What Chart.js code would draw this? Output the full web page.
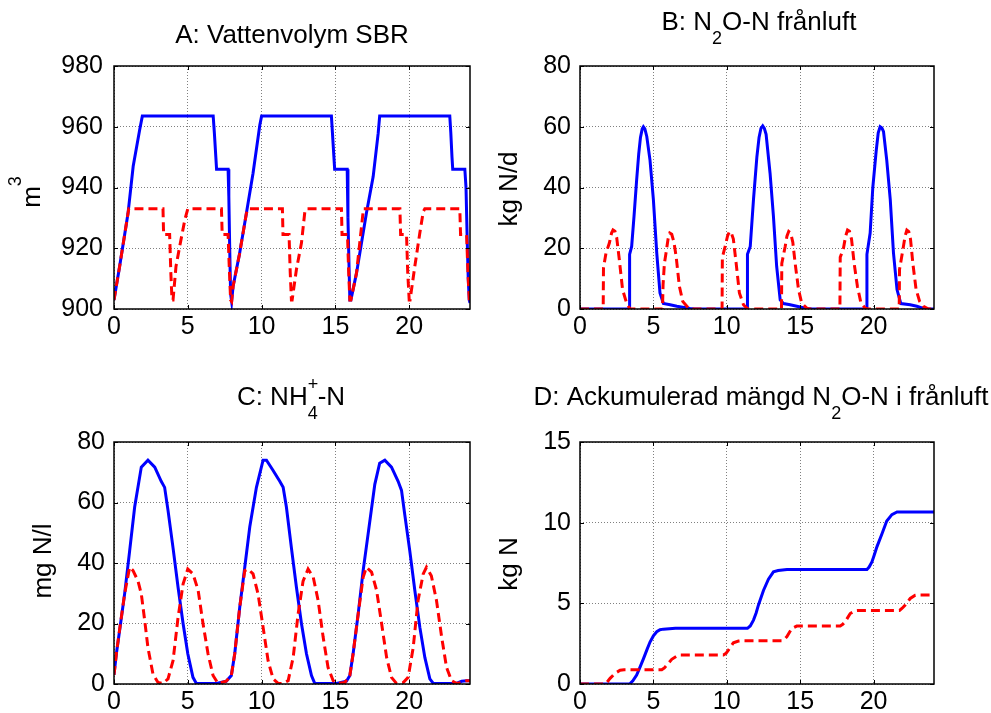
<!DOCTYPE html>
<html>
<head>
<meta charset="utf-8">
<script src="https://cdn.jsdelivr.net/npm/chart.js@4.4.1/dist/chart.umd.min.js"></script>
<style>
  body { margin: 0; background: #fff; }
  #wrap { position: relative; width: 991px; height: 713px; }
  canvas { position: absolute; }
</style>
</head>
<body>
<div id="wrap">
  <canvas id="cA" width="495" height="356" style="left:0;top:0"></canvas>
  <canvas id="cB" width="496" height="356" style="left:495px;top:0"></canvas>
  <canvas id="cC" width="495" height="357" style="left:0;top:356px"></canvas>
  <canvas id="cD" width="496" height="357" style="left:495px;top:356px"></canvas>
</div>
<script>
// time in hours; [t, value] pairs
const xTicks = [0, 5, 10, 15, 20];
const xMax = 24.12;

// A: water volume (m3)
const volBlue = [[0,903],[0.38,914],[0.95,931.5],[1.3,947],[1.74,959],[1.92,963.5],[6.72,963.5],[6.8,958],[6.9,950],[6.95,946],
  [7.73,946],[7.78,937],[7.84,920],[7.9,905],[7.97,902.5],[8.07,907.5],[8.5,918],[8.97,931.5],[9.42,944.7],[9.88,960.6],[10.0,963.5],
  [14.73,963.5],[14.8,958],[14.9,950],[14.95,946],[15.8,946],[15.85,930],[15.92,915],[15.98,903],[16.05,903],[16.43,911.8],
  [17.1,931.5],[17.56,943.6],[17.9,957.9],[18.0,963.5],[22.75,963.5],[22.82,958],[22.9,950],[22.95,946],[23.77,946],[23.85,940],
  [23.92,925],[24.0,910],[24.07,903],[24.12,902]];
const volRed = [[0,903],[0.38,914],[0.95,931.5],[1.0,933],[3.32,933],[3.36,924.5],[3.77,924.5],[3.85,912],[3.93,903],[4.0,903],
  [4.2,914],[4.45,920.6],[4.8,929.4],[5.0,933],[7.28,933],[7.33,924.5],[7.73,924.5],[7.8,915],[7.9,903],[7.97,902.5],[8.07,907.5],
  [8.5,918],[8.97,931.5],[9.08,933],[11.41,933],[11.45,924.5],[11.86,924.5],[11.94,912],[12.02,903],[12.07,903],[12.36,913],
  [12.7,921.7],[12.93,932],[13.04,933],[15.41,933],[15.45,924.5],[15.82,924.5],[15.9,912],[15.98,903],[16.05,903],[16.43,911.8],
  [16.9,933],[19.37,933],[19.42,924.5],[19.82,924.5],[19.9,912],[20.0,903],[20.06,903],[20.38,914],[20.72,925],[20.95,932],
  [21.06,933],[23.43,933],[23.48,924.5],[23.89,924.5],[23.98,912],[24.07,903],[24.12,902]];

// B: N2O-N in off-gas (kg N/d)
const gasBlue = [[0,0],[3.36,0],[3.38,18],[3.52,20.6],[3.68,30.5],[3.86,42.5],[4.0,51],[4.12,56.5],[4.24,59.3],[4.32,60],
  [4.42,59.3],[4.55,56.8],[4.77,49],[5.0,36],[5.23,18.4],[5.45,5.3],[5.68,1.8],[6.14,1.4],[6.6,0.9],[7.5,0.2],[7.8,0],
  [11.39,0],[11.41,18],[11.6,20.6],[11.82,36],[12.05,50],[12.2,56.5],[12.33,59.5],[12.45,60.3],[12.56,59.5],[12.68,57.5],
  [12.95,44.7],[13.18,30.5],[13.4,14],[13.64,3],[13.86,1.8],[14.32,1.4],[14.77,0.9],[15.45,0.2],[15.8,0],[19.53,0],[19.55,18],
  [19.77,25],[19.95,40],[20.18,52],[20.32,58],[20.45,60],[20.57,59.6],[20.68,58.4],[20.9,49],[21.14,36],[21.36,18.4],
  [21.6,6.4],[21.86,1.8],[22.5,1.4],[22.95,0.9],[23.4,0.2],[23.7,0],[24.12,0]];
const gasRed = [[0,0],[1.58,0],[1.6,13.5],[1.77,18.4],[2.0,21.7],[2.15,25],[2.25,26],[2.38,25.6],[2.5,23.5],[2.68,16.2],
  [2.9,6.4],[3.14,2.5],[3.3,0.9],[3.4,0],[5.62,0],[5.66,8],[5.75,15],[5.86,18.4],[6.0,23],[6.12,25],[6.25,24.6],[6.4,22],
  [6.55,17.3],[6.77,7.5],[7.0,2.5],[7.39,0.3],[7.6,0],[9.68,0],[9.7,17],[9.89,20.6],[10.05,24],[10.18,25.5],[10.3,25.2],
  [10.45,23],[10.64,15],[10.86,5.3],[11.14,1.4],[11.36,0.3],[11.5,0],[13.73,0],[13.75,15],[13.98,20.6],[14.1,24],[14.22,25.5],
  [14.35,25],[14.5,22],[14.66,15],[14.89,6.4],[15.1,2],[15.45,0.3],[15.6,0],[17.71,0],[17.73,17],[17.95,20],[18.1,24],
  [18.23,26],[18.36,25.6],[18.5,23],[18.68,15],[18.9,7.5],[19.14,2],[19.43,0.3],[19.6,0],[21.75,0],[21.77,13],[22.0,19.5],
  [22.15,24],[22.27,26],[22.4,25.5],[22.52,23],[22.68,15],[22.9,6.4],[23.14,2.5],[23.4,0.9],[23.75,0],[24.12,0]];

// C: NH4-N (mg N/l)
const nhBlue = [[0,3],[0.16,10],[0.38,17.7],[0.72,29.8],[1.06,44],[1.4,58.5],[1.85,71.7],[2.3,74],[2.76,71.7],[3.2,67],[3.43,65],
  [3.66,57.4],[4.0,45],[4.34,32],[4.68,20],[5.0,10],[5.35,2.2],[5.58,0.2],[6.94,0.2],[7.6,0.9],[7.95,2.8],[8.18,10],[8.52,25.4],
  [8.86,38.6],[9.2,52],[9.65,65],[10.1,74],[10.33,74],[10.78,70.6],[11.23,67],[11.46,65],[11.68,58.5],[12.02,45],[12.36,32],
  [12.7,20],[13.04,10],[13.38,2.8],[13.6,0.2],[15.07,0.2],[15.75,0.9],[15.98,2.8],[16.2,10],[16.54,23],[16.88,37.5],[17.22,49.7],
  [17.67,66],[18.0,73],[18.35,74],[18.8,71.7],[19.25,67],[19.48,64],[19.7,56],[20.04,44],[20.38,31],[20.72,18.8],[21.06,8.8],
  [21.4,1.7],[21.63,0.2],[23.2,0.2],[23.55,0.9],[23.9,1.1],[24.12,1.1]];
const nhRed = [[0,3],[0.16,10],[0.38,18],[0.72,29.8],[1.06,38.6],[1.29,37.5],[1.63,34],[1.85,29.8],[2.08,21],[2.3,12],[2.64,3.3],
  [2.98,0.5],[3.32,0.2],[3.66,1.7],[4.0,7.7],[4.34,22],[4.68,33],[5.0,38],[5.35,36.4],[5.7,31],[6.03,20],[6.37,10],[6.71,2.8],
  [7.05,0.2],[7.6,0.9],[7.95,2.8],[8.18,10],[8.52,25.4],[8.86,37.5],[9.08,38],[9.42,36.4],[9.76,29.8],[10.1,18.8],[10.44,7.7],
  [10.78,1.7],[11.12,0.2],[11.46,0.2],[11.8,1.1],[12.14,8.8],[12.47,23],[12.81,34],[13.15,38],[13.5,35.3],[13.83,27.6],[14.17,15.5],
  [14.5,5.5],[14.85,1.1],[15.18,0.2],[15.64,0.5],[15.98,2.8],[16.2,10],[16.54,23],[16.88,35.3],[17.1,38.6],[17.45,37],[17.79,31],
  [18.13,20],[18.47,8.8],[18.8,2.2],[19.14,0.2],[19.6,0.5],[19.93,2.2],[20.27,12],[20.6,27.6],[20.95,36.4],[21.17,38.6],[21.5,35.8],
  [21.85,27.6],[22.2,15.5],[22.53,5.5],[22.87,1.1],[23.2,0.2],[23.55,0.5],[23.9,1.1],[24.12,1.1]];

// D: accumulated N2O-N (kg N)
const accBlue = [[0,0],[3.38,0],[3.6,0.2],[3.86,0.56],[4.09,1.05],[4.32,1.56],[4.55,2.1],[4.77,2.6],[5.0,2.98],[5.23,3.24],
  [5.45,3.36],[5.68,3.4],[6.5,3.45],[11.41,3.45],[11.6,3.6],[11.82,3.96],[12.0,4.4],[12.16,4.9],[12.5,5.8],[12.84,6.5],
  [13.18,6.95],[13.5,7.03],[14.1,7.1],[19.55,7.1],[19.7,7.25],[19.89,7.57],[20.05,8.0],[20.23,8.5],[20.57,9.3],[20.9,10.1],
  [21.25,10.5],[21.6,10.66],[24.12,10.66]];
const accRed = [[0,0],[1.7,0],[1.85,0.12],[2.05,0.35],[2.39,0.66],[2.73,0.85],[3.0,0.88],[5.57,0.88],[5.75,1.0],[5.91,1.17],
  [6.25,1.53],[6.6,1.73],[6.82,1.8],[9.77,1.8],[9.95,1.9],[10.11,2.1],[10.45,2.56],[10.8,2.66],[11.0,2.68],[13.75,2.68],
  [13.95,2.8],[14.09,2.93],[14.43,3.44],[14.77,3.59],[15.0,3.6],[17.73,3.6],[17.9,3.7],[18.07,3.86],[18.41,4.37],[18.75,4.54],
  [19.0,4.56],[21.77,4.56],[21.95,4.7],[22.16,4.9],[22.5,5.3],[22.84,5.5],[23.0,5.52],[24.12,5.52]];

const FONT = "'Liberation Sans', Arial, Helvetica, sans-serif";
Chart.defaults.font.family = FONT;
Chart.defaults.color = '#000';

// draw text with sub/superscripts; segments {t, k:'sub'|'sup', hold}
function drawRich(ctx, segs, cx, base, size, supDy) {
  const small = 18;
  let w = 0;
  const items = segs.map(s => {
    const fs = s.k ? small : size;
    ctx.font = fs + 'px ' + FONT;
    const it = { s: s, fs: fs, x: w };
    if (!s.hold) w += ctx.measureText(s.t).width;
    return it;
  });
  const x0 = cx - w / 2;
  ctx.fillStyle = '#000';
  ctx.textAlign = 'left';
  ctx.textBaseline = 'alphabetic';
  items.forEach(it => {
    ctx.font = it.fs + 'px ' + FONT;
    const dy = it.s.k === 'sub' ? 14 : it.s.k === 'sup' ? supDy : 0;
    ctx.fillText(it.s.t, x0 + it.x, base + dy);
  });
}

const matlabBox = {
  id: 'matlabBox',
  afterDraw(chart, args, o) {
    const ctx = chart.ctx, a = chart.chartArea;
    const xs = chart.scales.x, ys = chart.scales.y;
    ctx.save();
    ctx.strokeStyle = '#000';
    ctx.lineWidth = 1;
    ctx.beginPath();
    xs.ticks.forEach(t => {
      const p = Math.round(xs.getPixelForValue(t.value)) + 0.5;
      ctx.moveTo(p, a.bottom); ctx.lineTo(p, a.bottom - 4);
      ctx.moveTo(p, a.top); ctx.lineTo(p, a.top + 4);
    });
    ys.ticks.forEach(t => {
      const p = Math.round(ys.getPixelForValue(t.value)) + 0.5;
      ctx.moveTo(a.left, p); ctx.lineTo(a.left + 4, p);
      ctx.moveTo(a.right, p); ctx.lineTo(a.right - 4, p);
    });
    ctx.stroke();
    ctx.lineWidth = 1.5;
    ctx.strokeRect(a.left, a.top, a.right - a.left, a.bottom - a.top);
    drawRich(ctx, o.title, o.titleX, o.titleY, 26, -15);
    ctx.translate(o.labelX, o.labelY);
    ctx.rotate(-Math.PI / 2);
    drawRich(ctx, o.ylabel, 0, 0, 26, -19);
    ctx.restore();
  }
};

function pts(arr) { return arr.map(p => ({ x: p[0], y: p[1] })); }

function makeChart(id, blue, red, yMin, yMax, yStep, pad, tickPad, deco) {
  return new Chart(document.getElementById(id), {
    type: 'line',
    data: {
      datasets: [
        { data: pts(red), borderColor: '#ff0000', borderWidth: 3, borderDash: [9, 5] },
        { data: pts(blue), borderColor: '#0000ff', borderWidth: 3 }
      ]
    },
    options: {
      responsive: false,
      animation: false,
      events: [],
      layout: { padding: pad },
      elements: { point: { radius: 0 }, line: { tension: 0, fill: false } },
      scales: {
        x: {
          type: 'linear', min: 0, max: xMax,
          afterBuildTicks: s => { s.ticks = xTicks.map(v => ({ value: v })); },
          afterFit: s => { s.height = 28; },
          grid: { color: '#808080', lineWidth: 1, drawTicks: false },
          border: { display: false, dash: [1, 2] },
          ticks: { font: { size: 25 }, padding: 3, maxRotation: 0 }
        },
        y: {
          min: yMin, max: yMax,
          afterFit: s => { s.width = 60; },
          grid: { color: '#808080', lineWidth: 1, drawTicks: false },
          border: { display: false, dash: [1, 2] },
          ticks: { font: { size: 25 }, padding: tickPad, stepSize: yStep }
        }
      },
      plugins: { legend: { display: false }, tooltip: { enabled: false }, matlabBox: deco }
    },
    plugins: [matlabBox]
  });
}

makeChart('cA', volBlue, volRed, 900, 980, 20, { left: 54, top: 66, right: 25, bottom: 19 }, 11, {
  title: [{ t: 'A: Vattenvolym SBR' }], titleX: 292, titleY: 43,
  ylabel: [{ t: 'm' }, { t: '3', k: 'sup' }], labelX: 40, labelY: 192
});
makeChart('cB', gasBlue, gasRed, 0, 80, 20, { left: 25, top: 66, right: 57, bottom: 19 }, 9, {
  title: [{ t: 'B: N' }, { t: '2', k: 'sub' }, { t: 'O-N frånluft' }], titleX: 264, titleY: 30,
  ylabel: [{ t: 'kg N/d' }], labelX: 22, labelY: 189
});
makeChart('cC', nhBlue, nhRed, 0, 80, 20, { left: 54, top: 86, right: 25, bottom: 1 }, 9, {
  title: [{ t: 'C: NH' }, { t: '+', k: 'sup', hold: true }, { t: '4', k: 'sub' }, { t: '-N' }], titleX: 291, titleY: 49,
  ylabel: [{ t: 'mg N/l' }], labelX: 51, labelY: 205
});
makeChart('cD', accBlue, accRed, 0, 15, 5, { left: 25, top: 86, right: 57, bottom: 1 }, 9, {
  title: [{ t: 'D: Ackumulerad mängd N' }, { t: '2', k: 'sub' }, { t: 'O-N i frånluft' }], titleX: 266, titleY: 49,
  ylabel: [{ t: 'kg N' }], labelX: 22, labelY: 208
});
</script>
</body>
</html>
